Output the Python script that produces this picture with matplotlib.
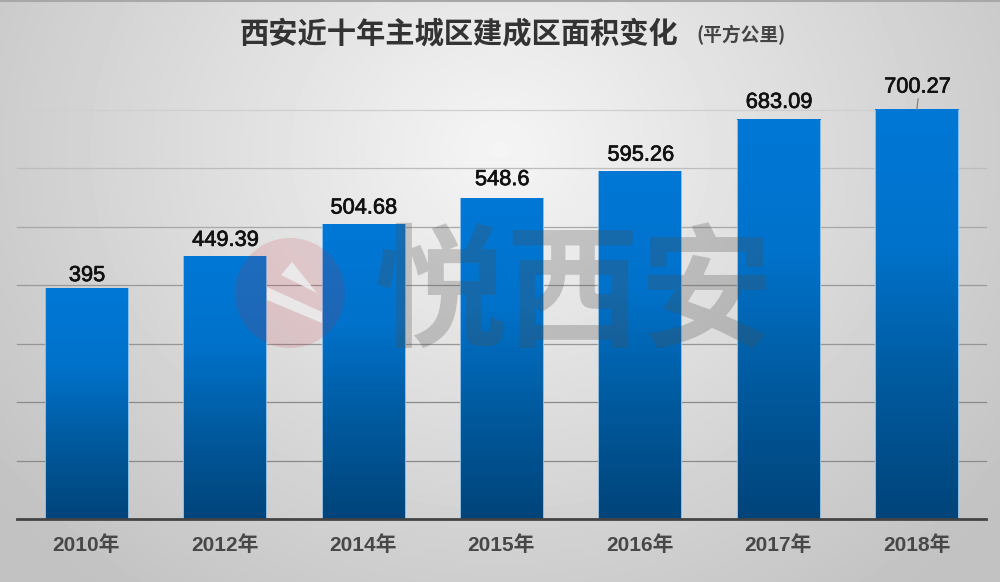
import numpy as np
import matplotlib
matplotlib.use("Agg")
import matplotlib.pyplot as plt
import matplotlib.patheffects as pe
from matplotlib.colors import LinearSegmentedColormap
from matplotlib.patches import Circle, Polygon

plt.rcParams["font.family"] = ["Liberation Sans", "Noto Sans CJK SC"]

years = ["2010年", "2012年", "2014年", "2015年", "2016年", "2017年", "2018年"]
areas = [395, 449.39, 504.68, 548.6, 595.26, 683.09, 700.27]
area_labels = ["395", "449.39", "504.68", "548.6", "595.26", "683.09", "700.27"]
y_ticks = [0, 100, 200, 300, 400, 500, 600, 700]

# distance of each value label above its bar, in points
label_pads = [1.5, 4, 4, 6, 4, 5, 8.8]
grid_colors = ["#8a8a8a", "#8a8a8a", "#969696", "#999999", "#a8a8a8", "#bdbdbd", "#cfcfcf"]

W, H = 1000, 582
fig = plt.figure(figsize=(W / 100, H / 100), dpi=100)

# grey radial background
bg = fig.add_axes([0, 0, 1, 1], zorder=0)
xx, yy = np.meshgrid(np.arange(W), np.arange(H))
dist = np.sqrt(((xx - 500) / 640) ** 2 + ((yy - 150) / 560) ** 2)
bg.imshow(np.clip(0.96 - 0.2 * dist, 0.76, 1), cmap="gray", vmin=0, vmax=1, aspect="auto")
bg.axhline(0.5, color="#a8a8a8", lw=1.5)
bg.axis("off")

ax = fig.add_axes([17 / W, (H - 519) / H, 969 / W, 409 / H], zorder=1)
ax.patch.set_alpha(0)

x = np.arange(len(years))
bars = ax.bar(x, areas, width=0.6, color="none", edgecolor="none", zorder=3)

# vertical gradient on each bar
cmap = LinearSegmentedColormap.from_list("bar", ["#0078d6", "#0072cb", "#005a9e", "#00447a"])
for bar in bars:
    x0, h = bar.get_x(), bar.get_height()
    w = bar.get_width()
    grad = np.linspace(0, 1, 256).reshape(-1, 1)
    ax.imshow(grad, cmap=cmap, aspect="auto", extent=[x0, x0 + w, 0, h], zorder=3, clip_on=False)
    ax.plot([x0, x0], [0, h], color="#8cc0e8", lw=0.7, zorder=4, clip_on=False)
    ax.plot([x0 + w, x0 + w], [0, h], color="#8cc0e8", lw=0.7, zorder=4, clip_on=False)
ax.set_xlim(-0.5, len(years) - 0.5)
ax.set_ylim(0, 700)

# grid lines, they fade towards the top
for tick, col in zip(y_ticks[1:], grid_colors):
    ax.axhline(tick, color=col, lw=0.9, zorder=1, clip_on=False)

for i, val in enumerate(areas):
    ax.annotate(area_labels[i], (x[i], val), xytext=(0.5, label_pads[i]), textcoords="offset points",
                ha="center", va="bottom", fontsize=15.7, color="#111111", zorder=5,
                path_effects=[pe.withStroke(linewidth=0.5, foreground="#111111")])
# small leader line on the last bar
ax.annotate("", (x[-1], areas[-1]), xytext=(1, 8), textcoords="offset points",
            arrowprops=dict(arrowstyle="-", color="#777777", lw=0.8, shrinkA=0, shrinkB=0))

for side in ["top", "right", "left"]:
    ax.spines[side].set_visible(False)
ax.spines["bottom"].set_color("#444444")
ax.spines["bottom"].set_linewidth(2)
ax.spines["bottom"].set_zorder(6)
ax.set_xticks(x)
ax.set_xticklabels(years, fontsize=15, fontweight="bold", color="#484848")
ax.set_yticks([])
ax.tick_params(axis="x", length=0, pad=11.5)

# overlay in pixel coordinates for title and watermark
top = fig.add_axes([0, 0, 1, 1], zorder=2)
top.set_xlim(0, W)
top.set_ylim(H, 0)
top.axis("off")
top.patch.set_alpha(0)

top.text(240, 33, "西安近十年主城区建成区面积变化", fontsize=21.1, fontweight="bold",
         color="#333333", ha="left", va="center", family="Noto Sans CJK SC")
top.text(696, 35, "(平方公里)", fontsize=13.5, fontweight="bold", color="#444444",
         ha="left", va="center", family="Noto Sans CJK SC")

# watermark: logo and name
top.add_patch(Circle((290, 293), 55, color="#c8283c", alpha=0.15, lw=0))
swoosh = "#ececec"
top.add_patch(Polygon([(292, 262), (281, 275), (317, 293)], color=swoosh, alpha=0.9, lw=0))
top.add_patch(Polygon([(267, 287), (322, 312), (322, 323), (267, 300)], color=swoosh, alpha=0.9, lw=0))
top.text(373, 297, "悦西安", fontsize=96, fontweight="black", color="#505050", alpha=0.27,
         ha="left", va="center", family="Noto Sans CJK SC")

fig.savefig("out.png", dpi=100)
